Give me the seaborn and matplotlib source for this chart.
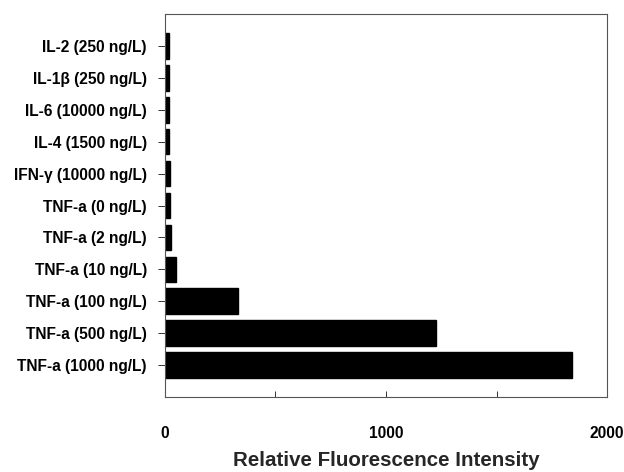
import matplotlib
matplotlib.use("Agg")
import matplotlib.pyplot as plt
import seaborn as sns
import pandas as pd
from matplotlib.ticker import MultipleLocator

categories = ["IL-2 (250 ng/L)", "IL-1β (250 ng/L)", "IL-6 (10000 ng/L)", "IL-4 (1500 ng/L)",
              "IFN-γ (10000 ng/L)", "TNF-a (0 ng/L)", "TNF-a (2 ng/L)", "TNF-a (10 ng/L)",
              "TNF-a (100 ng/L)", "TNF-a (500 ng/L)", "TNF-a (1000 ng/L)"]
values = [20, 18, 17, 18, 21, 22, 27, 50, 330, 1225, 1840]
xticks_major = [0, 1000, 2000]

sns.set_style("white")
plt.rcParams['font.family'] = ['Liberation Sans', 'DejaVu Sans']

df = pd.DataFrame({"cat": categories, "val": values})

fig = plt.figure(figsize=(6.24, 4.72), dpi=100)
ax = fig.add_axes([0.2644, 0.1589, 0.7084, 0.8114])
sns.barplot(data=df, x="val", y="cat", orient="h", color="black", width=0.8,
            saturation=1, ax=ax, edgecolor="black")

ax.set_xlim(0, 2000)
ax.set_ylim(11, -1)
ax.set_xticks(xticks_major)
ax.xaxis.set_minor_locator(MultipleLocator(500))
ax.tick_params(axis="x", which="both", direction="in", length=4, width=0.7,
               colors="#333333", pad=21, labelsize=11.2, labelcolor="black", bottom=True)
ax.tick_params(axis="y", direction="out", length=5, width=0.7, colors="#333333",
               labelsize=11.2, labelcolor="black", left=True, pad=8)
for lab in ax.get_xticklabels() + ax.get_yticklabels():
    lab.set_fontweight("bold")
ax.set_ylabel("")
ax.set_xlabel("Relative Fluorescence Intensity", fontsize=14.8, fontweight="bold", labelpad=7)
for s in ax.spines.values():
    s.set_visible(True)
    s.set_color("#555555")
    s.set_linewidth(0.8)

fig.savefig("out.png", dpi=100)
